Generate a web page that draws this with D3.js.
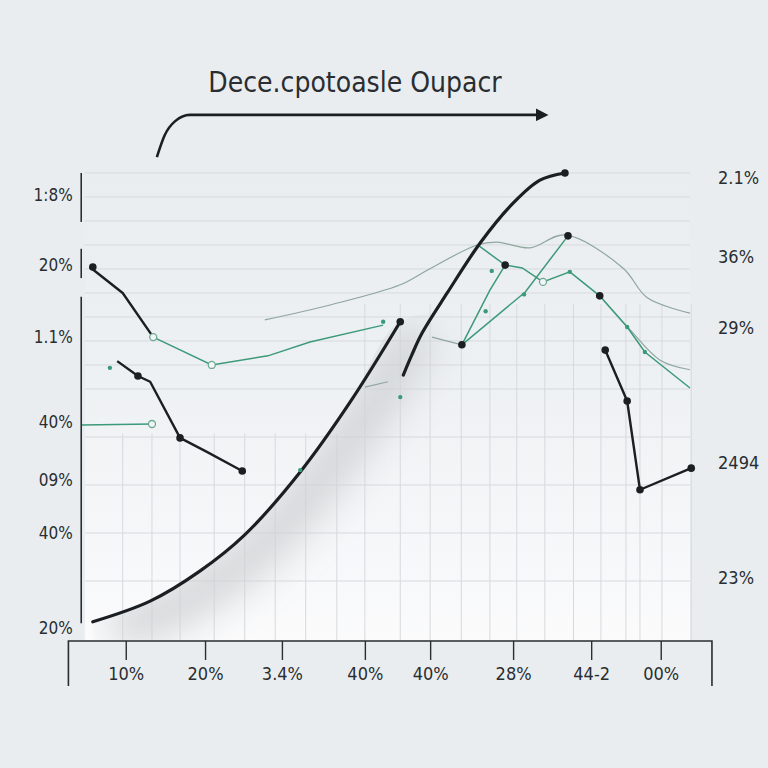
<!DOCTYPE html>
<html>
<head>
<meta charset="utf-8">
<script src="https://cdn.jsdelivr.net/npm/d3@7"></script>
<style>
  html, body { margin: 0; padding: 0; background: #e9edf0; }
  svg text { font-family: 'DejaVu Sans Condensed', 'Liberation Sans Narrow', 'Roboto Condensed', Roboto, sans-serif; font-stretch: condensed; fill: #2a2d31; }
  .grid line { stroke: #d6dadd; stroke-width: 1; }
  .axis path, .axis line { stroke: #2a2d31; }
</style>
</head>
<body>
<div id="vis"></div>
<script>
// values, x and y both on a 0-100 scale
const bigLower = [[2.1, 3.8], [11.5, 8.1], [19.7, 14.4], [27, 21.9], [36.1, 35], [44.3, 49.6], [52.5, 66.3]]
const bigUpper = [[53, 55.2], [54.4, 59.4], [56.1, 64], [60.2, 72.3], [65.6, 82.7], [71, 91], [75.4, 95.8], [79.5, 97.3]]
const leftDropA = [[1.6, 77.7], [7, 72.3], [12, 63.1]]
const leftGreen = [[12, 63.1], [21.6, 57.3], [30.8, 59.2], [37.7, 62.1], [49.7, 65.6]]
const leftDropB = [[6.1, 58.1], [9.5, 55], [11.5, 53.8], [16.4, 42.1], [20.8, 39.2], [26.6, 35.2]]
const flatGreen = [[0.3, 44.8], [11.8, 45]]
const longGrey = [[30.3, 66.7], [41, 69.8], [52.5, 74], [57, 77.1], [65.1, 82.3], [68.4, 82.9], [73.8, 81.7], [79.5, 84.4], [89, 77.5], [93, 71.3], [100, 68.1]]
const riseGreen = [[62.6, 61.5], [73, 72.5], [80, 84.2]]
const steepGreen = [[62.6, 61.5], [67.2, 72.9], [69.7, 78.1]]
const fallGreen = [[65.2, 82.3], [69.7, 78.1], [72.5, 77.5], [75.9, 74.6], [80.3, 76.7], [85.2, 71.7], [89.7, 65.2], [92.6, 60], [100, 52.5]]
const fallGrey = [[85.2, 71.7], [90.2, 64.6], [95.1, 58.3], [100, 56.3]]
const shortGrey = [[57.7, 63.1], [62.6, 61.5]]
const shortGrey2 = [[46.7, 52.7], [50.5, 53.8]]
const rightDrop = [[86.1, 60.4], [89.7, 49.8], [91.8, 31.3], [100.2, 35.8]]

const blackDots = [[2.1, 77.7], [9.5, 55], [16.4, 42.1], [26.6, 35.2], [52.5, 66.3], [79.5, 97.3], [62.6, 61.5], [69.7, 78.1], [80, 84.2], [85.2, 71.7], [86.1, 60.4], [89.7, 49.8], [91.8, 31.3], [100.2, 35.8]]
const greenDots = [[4.9, 56.7], [49.7, 66.3], [52.5, 50.6], [67.5, 76.9], [66.5, 68.5], [72.8, 72], [89.7, 65.2], [92.6, 60], [36.1, 35.4], [80.3, 76.7]]
const openDots = [[12, 63.1], [21.6, 57.3], [11.8, 45], [75.9, 74.6]]

const titleArrow = [[12.6, 100.6], [13.9, 105.2], [15.6, 108.1], [18, 109.4], [75.1, 109.4]]

const xTicks = [7.5, 20.5, 33.1, 46.7, 57.4, 71, 83.8, 95.2]
const xLabels = ['10%', '20%', '3.4%', '40%', '40%', '28%', '44-2', '00%']
const leftTicks = [92.7, 78.1, 63.1, 45.4, 33.3, 22.3, 2.5]
const leftLabels = ['1:8%', '20%', '1.1%', '40%', '09%', '40%', '20%']
const rightTicks = [96.25, 79.8, 65, 36.9, 12.9]
const rightLabels = ['2.1%', '36%', '29%', '2494', '23%']
const leftAxisParts = [[97.3, 87.1], [81.5, 75.4], [71.5, 3.5]]
const hGrid = [97.3, 92.3, 87.3, 82.3, 77.3, 72.3, 67.3, 62.3, 57.3, 52.3, 42.3, 32.3, 22.3, 12.3]
const vGrid = [7, 11.8, 16.4, 22, 27, 32, 37, 42.1, 46.7, 52.5, 57.4, 62.5, 67.2, 71.6, 76.2, 80.9, 85.4, 89.5, 91.8, 95.4, 100.2]
const axisExtent = [-1.9, 103.6]

const width = 768
const height = 768

const svg = d3.select('#vis').append('svg')
  .attr('width', width).attr('height', height)
  .attr('viewBox', [0, 0, width, height])

const x = d3.scaleLinear().domain([0, 100]).range([80, 690])
const y = d3.scaleLinear().domain([0, 100]).range([640, 160])

const defs = svg.append('defs')
const bgGrad = defs.append('linearGradient').attr('id', 'plot-bg')
  .attr('x1', 0).attr('y1', 0).attr('x2', 0).attr('y2', 1)
bgGrad.append('stop').attr('offset', '0%').attr('stop-color', '#e9edf0')
bgGrad.append('stop').attr('offset', '45%').attr('stop-color', '#eef1f3')
bgGrad.append('stop').attr('offset', '100%').attr('stop-color', '#fbfbfc')

defs.append('filter').attr('id', 'soft')
  .attr('x', '-50%').attr('y', '-50%').attr('width', '200%').attr('height', '200%')
  .append('feGaussianBlur').attr('stdDeviation', 18)

defs.append('marker').attr('id', 'arrow')
  .attr('viewBox', '0 0 10 10').attr('refX', 2).attr('refY', 5)
  .attr('markerWidth', 5).attr('markerHeight', 5).attr('orient', 'auto')
  .append('path').attr('d', 'M0,0L10,5L0,10z').attr('fill', '#1c1f22')

// plot background
svg.append('rect')
  .attr('x', x(0.8)).attr('y', y(98))
  .attr('width', x(100) - x(0.8)).attr('height', y(0) - y(98))
  .attr('fill', 'url(#plot-bg)')

// grid
const grid = svg.append('g').attr('class', 'grid')
grid.selectAll('.h').data(hGrid).join('line')
  .attr('x1', x(0.8)).attr('x2', x(100))
  .attr('y1', (d) => y(d)).attr('y2', (d) => y(d))
grid.selectAll('.v').data(vGrid).join('line')
  .attr('x1', (d) => x(d)).attr('x2', (d) => x(d))
  .attr('y1', (d) => y(d < 44 ? 43 : 70)).attr('y2', y(0))

const lineSmooth = d3.line().curve(d3.curveCatmullRom).x((d) => x(d[0])).y((d) => y(d[1]))
const lineMono = d3.line().curve(d3.curveMonotoneX).x((d) => x(d[0])).y((d) => y(d[1]))
const lineStraight = d3.line().x((d) => x(d[0])).y((d) => y(d[1]))
const areaUnder = d3.area().curve(d3.curveCatmullRom).x((d) => x(d[0])).y0(y(0)).y1((d) => y(d[1]))

// shadow cast by the big curve
defs.append('clipPath').attr('id', 'under-clip')
  .append('path').attr('d', areaUnder(bigLower.concat([[64, 66.3], [64, 0]])))
svg.append('g').attr('clip-path', 'url(#under-clip)')
  .append('path')
  .attr('d', lineSmooth(bigLower))
  .attr('transform', 'translate(20,8)')
  .attr('fill', 'none').attr('stroke', '#cfd1d3').attr('stroke-width', 44)
  .attr('opacity', 0.85)
  .attr('filter', 'url(#soft)')

// thin grey lines
const thin = [longGrey, fallGrey, shortGrey, shortGrey2]
svg.selectAll('.thin').data(thin).join('path')
  .attr('d', (d) => lineSmooth(d))
  .attr('fill', 'none').attr('stroke', '#8fa69d').attr('stroke-width', 1.2)

// green lines
const greens = [leftGreen, flatGreen, riseGreen, steepGreen, fallGreen]
svg.selectAll('.green').data(greens).join('path')
  .attr('d', (d) => lineStraight(d))
  .attr('fill', 'none').attr('stroke', '#3c9a78').attr('stroke-width', 1.5)

// black lines
svg.selectAll('.black').data([leftDropA, leftDropB, rightDrop]).join('path')
  .attr('d', (d) => lineStraight(d))
  .attr('fill', 'none').attr('stroke', '#1c1f22').attr('stroke-width', 2.4)
  .attr('stroke-linejoin', 'round')

svg.selectAll('.big').data([bigLower, bigUpper]).join('path')
  .attr('d', (d) => lineSmooth(d))
  .attr('fill', 'none').attr('stroke', '#1c1f22').attr('stroke-width', 3.2)
  .attr('stroke-linecap', 'round')

// dots
svg.selectAll('.gdot').data(greenDots).join('circle')
  .attr('cx', (d) => x(d[0])).attr('cy', (d) => y(d[1])).attr('r', 2.2)
  .attr('fill', '#3c9a78')
svg.selectAll('.odot').data(openDots).join('circle')
  .attr('cx', (d) => x(d[0])).attr('cy', (d) => y(d[1])).attr('r', 3.5)
  .attr('fill', '#f4f6f6').attr('stroke', '#6aa892').attr('stroke-width', 1.3)
svg.selectAll('.bdot').data(blackDots).join('circle')
  .attr('cx', (d) => x(d[0])).attr('cy', (d) => y(d[1])).attr('r', 3.8)
  .attr('fill', '#1c1f22')

// title and arrow
svg.append('path')
  .attr('d', lineMono(titleArrow))
  .attr('fill', 'none').attr('stroke', '#1c1f22').attr('stroke-width', 2.6)
  .attr('marker-end', 'url(#arrow)')
svg.append('text')
  .attr('x', 355).attr('y', 92)
  .attr('text-anchor', 'middle')
  .attr('font-size', 28)
  .text('Dece.cpotoasle Oupacr')

// bottom axis
const xAxis = d3.axisBottom(x)
  .tickValues(xTicks)
  .tickFormat((d, i) => xLabels[i])
  .tickSize(19)
  .tickPadding(7)
const gx = svg.append('g').attr('class', 'axis')
  .attr('transform', `translate(0,${y(-0.2)})`)
  .call(xAxis)
gx.select('.domain')
  .attr('stroke-width', 1.6)
  .attr('d', `M${x(axisExtent[0])},45V0H${x(axisExtent[1])}V45`)
gx.selectAll('.tick line').attr('stroke-width', 1.4)
gx.selectAll('text').attr('font-size', 18).attr('fill', '#2a2d31')

// left labels
const gl = svg.append('g').attr('class', 'axis')
  .attr('transform', `translate(${x(-1.2)},0)`)
  .call(d3.axisLeft(y).tickValues(leftTicks).tickFormat((d, i) => leftLabels[i]).tickSize(0).tickPadding(0))
gl.select('.domain').remove()
gl.selectAll('text').attr('font-size', 17).attr('fill', '#2a2d31')

svg.selectAll('.laxis').data(leftAxisParts).join('line')
  .attr('x1', x(0.2)).attr('x2', x(0.2))
  .attr('y1', (d) => y(d[0])).attr('y2', (d) => y(d[1]))
  .attr('stroke', '#2a2d31').attr('stroke-width', 1.6)

// right labels
const gr = svg.append('g').attr('class', 'axis')
  .attr('transform', `translate(${x(104.6)},0)`)
  .call(d3.axisRight(y).tickValues(rightTicks).tickFormat((d, i) => rightLabels[i]).tickSize(0).tickPadding(0))
gr.select('.domain').remove()
gr.selectAll('text').attr('font-size', 18).attr('fill', '#2a2d31')
</script>
</body>
</html>
